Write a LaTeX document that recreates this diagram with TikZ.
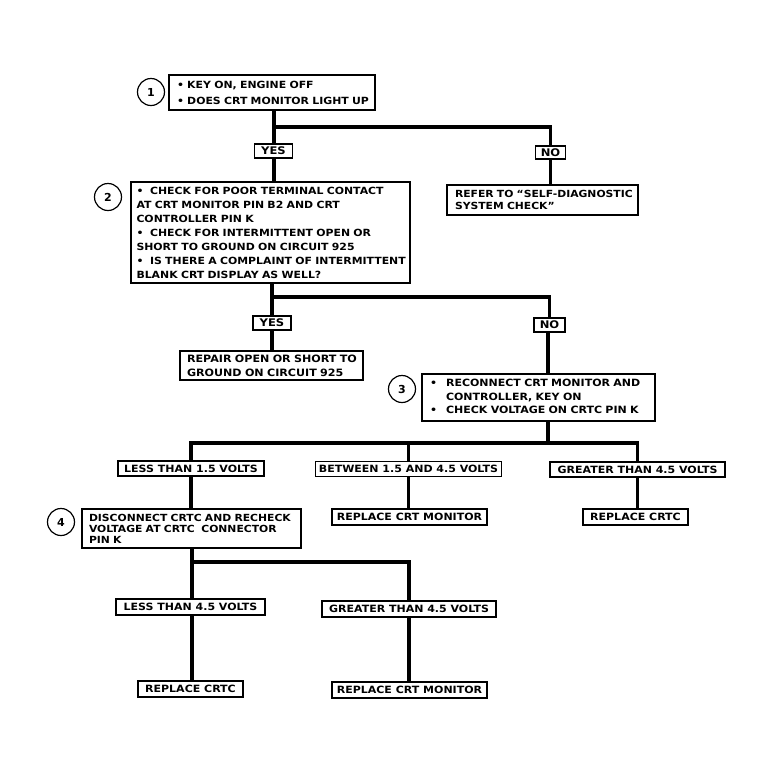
\documentclass[tikz,border=0pt]{standalone}
\usepackage{fontspec}
\newfontfamily\diafont{DejaVu Sans}[FakeStretch=1.1]
\newfontfamily\diafontn{DejaVu Sans}
\usetikzlibrary{calc}
\newcommand\txl[1]{\mbox{#1}}
\begin{document}
\begin{tikzpicture}[x=1pt,y=-1pt,
  box/.style={draw, line width=1.3pt, fill=white, inner xsep=4pt, inner ysep=1pt, align=left,
    font=\diafont\bfseries\fontsize{9.8}{13}\selectfont},
  lab/.style={draw, line width=1.3pt, fill=white, inner sep=0pt, align=center,
    font=\diafont\bfseries\fontsize{10}{11}\selectfont},
  num/.style={draw, circle, line width=1.2pt, minimum size=27pt, inner sep=0pt,
    font=\diafontn\bfseries\fontsize{11}{12}\selectfont},
  conn/.style={line width=3.8pt, line join=miter}]
\useasboundingbox[fill=white] (0,0) rectangle (778,780);

% ---------- level 1
\node[box, minimum width=206pt, minimum height=35pt, text width=190pt,
  font=\diafont\bfseries\fontsize{9.9}{16}\selectfont] (b1) at (272,92.5)
  {\txl{\textbullet\ KEY ON, ENGINE OFF}\\\txl{\textbullet\ DOES CRT MONITOR LIGHT UP}};
\node[num] (c1) at (151,92) {1};

\node[lab, minimum width=38pt, minimum height=14pt, font=\diafont\bfseries\fontsize{10.5}{11}\selectfont] (yes1) at (273.5,151) {YES};
\node[lab, minimum width=30pt, minimum height=13pt, font=\diafont\bfseries\fontsize{10.5}{11}\selectfont] (no1) at (550.5,152.5) {NO};

\node[box, minimum width=191pt, minimum height=30pt, text width=175pt,
  font=\diafont\bfseries\fontsize{9.8}{12.5}\selectfont] (refer) at (542.5,200)
  {\txl{REFER TO “SELF-DIAGNOSTIC}\\\txl{SYSTEM CHECK”}};

% ---------- level 2
\node[box, minimum width=279pt, minimum height=101pt, text width=268pt,
  font=\diafont\bfseries\fontsize{9.9}{14}\selectfont] (b2) at (270.5,232.5)
  {\txl{\textbullet\ \ CHECK FOR POOR TERMINAL CONTACT}\\
   \txl{AT CRT MONITOR PIN B2 AND CRT}\\
   \txl{CONTROLLER PIN K}\\
   \txl{\textbullet\ \ CHECK FOR INTERMITTENT OPEN OR}\\
   \txl{SHORT TO GROUND ON CIRCUIT 925}\\
   \txl{\textbullet\ \ IS THERE A COMPLAINT OF INTERMITTENT}\\
   \txl{BLANK CRT DISPLAY AS WELL?}};
\node[num] (c2) at (108,197) {2};

\node[lab, minimum width=38pt, minimum height=14pt, font=\diafont\bfseries\fontsize{10.5}{11}\selectfont] (yes2) at (272,323) {YES};
\node[lab, minimum width=31pt, minimum height=14pt, font=\diafont\bfseries\fontsize{10.5}{11}\selectfont] (no2) at (549.5,325) {NO};

\node[box, minimum width=183pt, minimum height=29pt, text width=169pt,
  font=\diafont\bfseries\fontsize{10.1}{14}\selectfont] (repair) at (271.5,365.5)
  {\txl{REPAIR OPEN OR SHORT TO}\\\txl{GROUND ON CIRCUIT 925}};

% ---------- level 3
\node[box, minimum width=233pt, minimum height=47pt, text width=217pt,
  font=\diafont\bfseries\fontsize{10}{13.5}\selectfont] (b3) at (538.5,397.5)
  {\begin{tabular}{@{}l@{\hspace{9pt}}l@{}}
   \textbullet & RECONNECT CRT MONITOR AND\\
               & CONTROLLER, KEY ON\\
   \textbullet & CHECK VOLTAGE ON CRTC PIN K
   \end{tabular}};
\node[num] (c3) at (402,389) {3};

\node[lab, minimum width=146pt, minimum height=15pt] (less15) at (191,468.5) {LESS THAN 1.5 VOLTS};
\node[lab, minimum width=186pt, minimum height=15pt] (betw15) at (408.5,469) {BETWEEN 1.5 AND 4.5 VOLTS};
\node[lab, minimum width=175pt, minimum height=15pt] (great15) at (637.5,469.5) {GREATER THAN 4.5 VOLTS};

\node[lab, minimum width=155pt, minimum height=16pt] (rcm1) at (409.5,517) {REPLACE CRT MONITOR};
\node[lab, minimum width=105pt, minimum height=16pt] (rcrtc1) at (635.5,517) {REPLACE CRTC};

% ---------- level 4
\node[box, minimum width=219pt, minimum height=39pt, text width=205pt,
  font=\diafont\bfseries\fontsize{9.8}{11}\selectfont] (b4) at (191.5,528.5)
  {\txl{DISCONNECT CRTC AND RECHECK}\\\txl{VOLTAGE AT CRTC\ \ CONNECTOR}\\\txl{PIN K}};
\node[num] (c4) at (61,522) {4};

\node[lab, minimum width=149pt, minimum height=16pt] (less45) at (190.5,607) {LESS THAN 4.5 VOLTS};
\node[lab, minimum width=174pt, minimum height=16pt] (great45) at (409,609) {GREATER THAN 4.5 VOLTS};

\node[lab, minimum width=105pt, minimum height=16pt] (rcrtc2) at (190.5,689) {REPLACE CRTC};
\node[lab, minimum width=155pt, minimum height=16pt] (rcm2) at (409.5,690) {REPLACE CRT MONITOR};

% ---------- connectors
\coordinate (j1) at (274,127);
\coordinate (j2) at (272,297);
\coordinate (j3) at (548,443);
\coordinate (j4) at (192,562);

\draw[conn] (b1.south -| j1) -- (yes1.north -| j1);
\draw[conn] (yes1.south -| j1) -- (b2.north -| j1);
\draw[conn] (j1) -| (no1.north);
\draw[conn] (no1.south) -- (no1.south |- refer.north);

\draw[conn] (b2.south -| j2) -- (yes2.north -| j2);
\draw[conn] (yes2.south -| j2) -- (repair.north -| j2);
\draw[conn] (j2) -| (no2.north);
\draw[conn] (no2.south -| j3) -- (b3.north -| j3);

\draw[conn] (b3.south -| j3) -- (j3);
\draw[conn] (less15.north) -- (less15.north |- j3) -- (great15.north |- j3) -- (great15.north);
\draw[conn] (betw15.north) -- (betw15.north |- j3);
\draw[conn] (less15.south) -- (less15.south |- b4.north);
\draw[conn] (betw15.south) -- (betw15.south |- rcm1.north);
\draw[conn] (great15.south) -- (great15.south |- rcrtc1.north);

\draw[conn] (b4.south -| j4) -- (less45.north -| j4);
\draw[conn] (j4) -| (great45.north);
\draw[conn] (less45.south -| j4) -- (rcrtc2.north -| j4);
\draw[conn] (great45.south) -- (great45.south |- rcm2.north);
\end{tikzpicture}
\end{document}
